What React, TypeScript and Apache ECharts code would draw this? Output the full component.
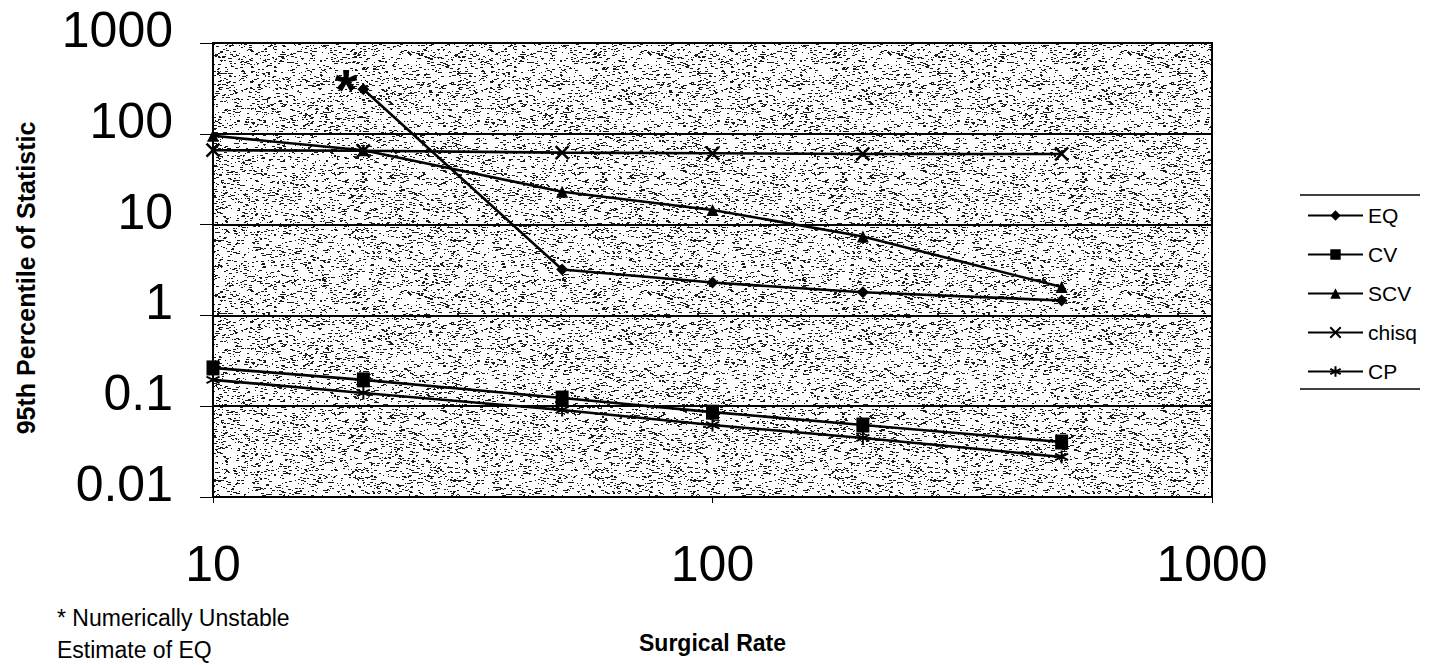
import React, { useEffect, useRef } from 'react';
import * as echarts from 'echarts';

// Surgical rate (x) and the 95th percentile of each statistic (y)
const surgicalRates = [10, 20, 50, 100, 200, 500];
const eqValues: (number | null)[] = [null, 310, 3.2, 2.3, 1.8, 1.46];
const cvValues = [0.264, 0.195, 0.123, 0.086, 0.062, 0.0403];
const scvValues = [95, 66, 23, 14.5, 7.4, 2.05];
const chisqValues = [66, 65, 62, 61, 60, 60];
const cpValues = [0.195, 0.14, 0.091, 0.062, 0.0447, 0.0276];

const seriesNames = ['EQ', 'CV', 'SCV', 'chisq', 'CP'];
const xTickLabels = ['10', '100', '1000'];
const yTickLabels = ['0.01', '0.1', '1', '10', '100', '1000'];
const footnoteLines = ['* Numerically Unstable', 'Estimate of EQ'];
const unstableMark = '*';
const unstableIndex = 1;

const FONT = 'Liberation Sans, Arial, Helvetica, sans-serif';

const crossSymbol = 'path://M0,0L10,10M10,0L0,10';
const asteriskSymbol = 'path://M5,0L5,10M0,2.5L10,7.5M10,2.5L0,7.5';

function tickText(labels: string[], v: number): string {
  const hit = labels.find((t) => Math.abs(Math.log10(Number(t)) - Math.log10(v)) < 1e-6);
  return hit ?? '';
}

function pairs(values: (number | null)[]) {
  const out: any[] = [];
  values.forEach((v, i) => {
    if (v != null) out.push([surgicalRates[i], v]);
  });
  return out;
}

// speckled grey fill for the plot area, generated deterministically
function makeStipple(): HTMLCanvasElement {
  const size = 240;
  const c = document.createElement('canvas');
  c.width = size;
  c.height = size;
  const ctx = c.getContext('2d')!;
  ctx.fillStyle = '#ffffff';
  ctx.fillRect(0, 0, size, size);
  ctx.fillStyle = '#1a1a1a';
  let s = 20240607;
  const next = () => {
    s = (Math.imul(s, 1103515245) + 12345) >>> 0;
    return s / 4294967296;
  };
  for (let i = 0; i < 4700; i++) {
    const x = Math.floor(next() * size);
    const y = Math.floor(next() * size);
    const w = 1 + Math.floor(next() * 3);
    ctx.fillRect(x, y, w, 1);
  }
  return c;
}

export default function App() {
  const ref = useRef<HTMLDivElement>(null);

  useEffect(() => {
    if (!ref.current) return;
    const chart = echarts.init(ref.current, undefined, { renderer: 'svg' });
    const stipple = makeStipple();

    const lineBase = {
      type: 'line' as const,
      color: '#000',
      lineStyle: { color: '#000', width: 2.6 },
      itemStyle: { color: '#000', borderColor: '#000', borderWidth: 0 },
      emphasis: { disabled: true },
      z: 3,
    };

    const eqData = pairs(eqValues).map((p) => {
      if (p[0] === surgicalRates[unstableIndex]) {
        return {
          value: p,
          label: {
            show: true,
            formatter: unstableMark,
            position: 'left',
            distance: 2,
            offset: [2, 0],
            fontSize: 58,
            fontWeight: 'bold',
            fontFamily: FONT,
            color: '#000',
            textBorderWidth: 0,
          },
        };
      }
      return p;
    });

    chart.setOption({
      animation: false,
      grid: {
        left: 213,
        right: 219,
        top: 43,
        bottom: 168,
        show: true,
        backgroundColor: {
          image: stipple,
          repeat: 'repeat',
          imageWidth: stipple.width,
          imageHeight: stipple.height,
        },
        borderColor: '#000',
        borderWidth: 2,
      },
      legend: {
        data: seriesNames,
        orient: 'vertical',
        left: 1302,
        top: 200,
        itemWidth: 55,
        itemHeight: 13,
        itemGap: 18,
        selectedMode: false,
        textStyle: { fontSize: 21, color: '#000', fontFamily: FONT },
      },
      xAxis: {
        type: 'log',
        logBase: 10,
        min: 10,
        max: 1000,
        axisLine: { show: true, lineStyle: { color: '#000', width: 2 } },
        axisTick: { show: true, length: 6, lineStyle: { color: '#000', width: 1 } },
        splitLine: { show: false },
        axisLabel: {
          fontSize: 50,
          color: '#000',
          fontFamily: FONT,
          margin: 42,
          formatter: (v: number) => tickText(xTickLabels, v),
        },
        name: 'Surgical Rate',
        nameLocation: 'middle',
        nameGap: 134,
        nameTextStyle: { fontSize: 23, fontWeight: 'bold', color: '#000', fontFamily: FONT },
      },
      yAxis: {
        type: 'log',
        logBase: 10,
        min: 0.01,
        max: 1000,
        axisLine: { show: true, lineStyle: { color: '#000', width: 2 } },
        axisTick: { show: true, length: 13, lineStyle: { color: '#000', width: 1 } },
        splitLine: { show: true, lineStyle: { color: '#000', width: 2 } },
        axisLabel: {
          fontSize: 50,
          color: '#000',
          fontFamily: FONT,
          margin: 40,
          verticalAlign: 'bottom',
          lineHeight: 26,
          formatter: (v: number) => tickText(yTickLabels, v),
        },
        name: '95th Percentile of Statistic',
        nameLocation: 'middle',
        nameGap: 175,
        nameTextStyle: {
          fontSize: 25,
          fontWeight: 'bold',
          color: '#000',
          fontFamily: FONT,
          padding: [0, 16, 0, 0],
        },
      },
      series: [
        { ...lineBase, name: seriesNames[0], data: eqData, symbol: 'diamond', symbolSize: 12 },
        { ...lineBase, name: seriesNames[1], data: pairs(cvValues), symbol: 'rect', symbolSize: [13, 15] },
        { ...lineBase, name: seriesNames[2], data: pairs(scvValues), symbol: 'triangle', symbolSize: 12 },
        {
          ...lineBase,
          name: seriesNames[3],
          data: pairs(chisqValues),
          symbol: crossSymbol,
          symbolSize: 13,
          itemStyle: { color: '#000', borderColor: '#000', borderWidth: 2.5 },
        },
        {
          ...lineBase,
          name: seriesNames[4],
          data: pairs(cpValues),
          symbol: asteriskSymbol,
          symbolSize: 13,
          itemStyle: { color: '#000', borderColor: '#000', borderWidth: 2 },
        },
      ],
      graphic: [
        {
          type: 'line',
          shape: { x1: 1300, y1: 195, x2: 1420, y2: 195 },
          style: { stroke: '#000', lineWidth: 1.5 },
        },
        {
          type: 'line',
          shape: { x1: 1300, y1: 389, x2: 1420, y2: 389 },
          style: { stroke: '#000', lineWidth: 1.5 },
        },
        {
          type: 'text',
          left: 57,
          top: 602,
          style: {
            text: footnoteLines.join('\n'),
            fontSize: 23,
            lineHeight: 32,
            fontFamily: FONT,
            fill: '#000',
          },
        },
      ],
    });

    return () => chart.dispose();
  }, []);

  return (
    <div
      ref={ref}
      style={{ position: 'fixed', left: 0, top: 0, width: 1431, height: 665, background: '#fff' }}
    />
  );
}
